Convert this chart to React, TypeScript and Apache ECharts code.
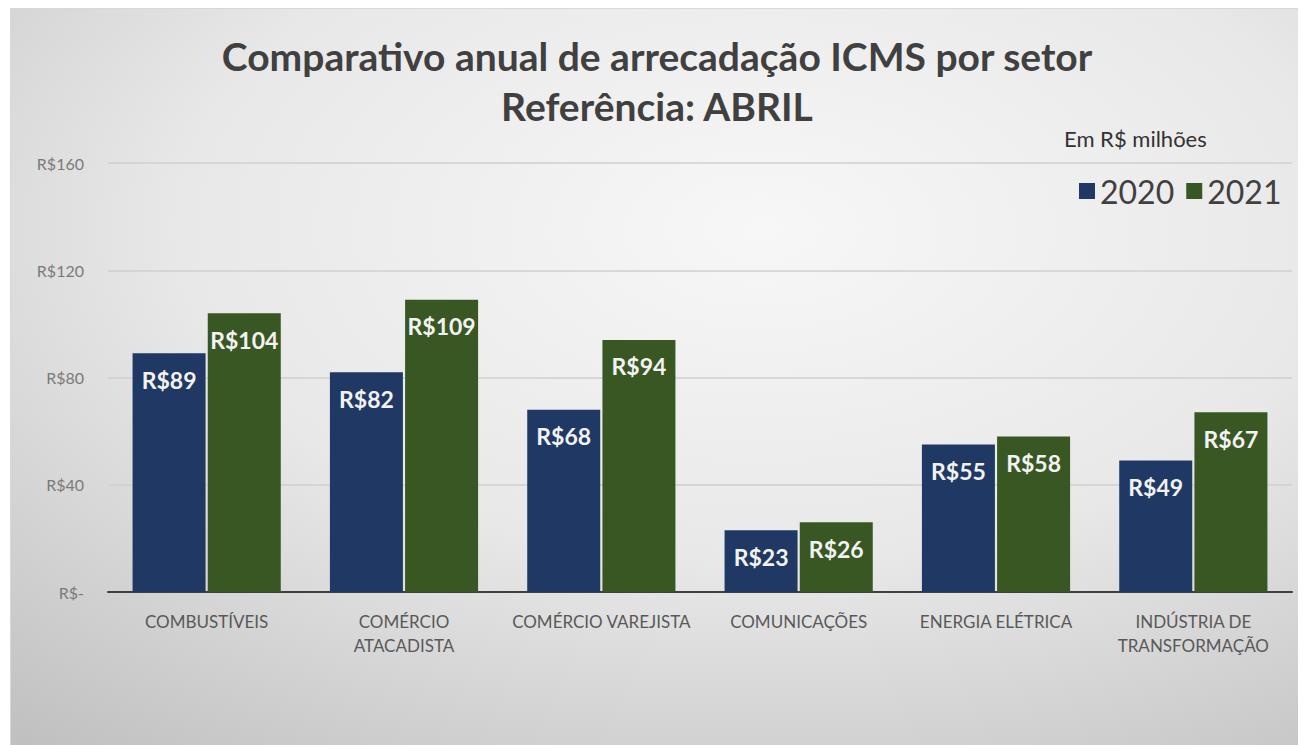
import React, { useEffect, useRef } from "react";
import * as echarts from "echarts";

const categories = [
  "COMBUSTÍVEIS",
  "COMÉRCIO\nATACADISTA",
  "COMÉRCIO VAREJISTA",
  "COMUNICAÇÕES",
  "ENERGIA ELÉTRICA",
  "INDÚSTRIA DE\nTRANSFORMAÇÃO",
];
const values2020 = [89, 82, 68, 23, 55, 49];
const values2021 = [104, 109, 94, 26, 58, 67];

const FONT = "Lato, 'Open Sans', sans-serif";

export default function App() {
  const ref = useRef<HTMLDivElement>(null);
  useEffect(() => {
    if (!ref.current) return;
    const chart = echarts.init(ref.current, undefined, { renderer: "svg" });
    const labelOpt = {
      show: true,
      position: "insideTop" as const,
      distance: 15,
      color: "#f2f2f2",
      fontSize: 23,
      fontWeight: "bold" as const,
      fontFamily: FONT,
      formatter: (p: any) => "R$" + p.value,
    };
    chart.setOption({
      animation: false,
      backgroundColor: "#ffffff",
      textStyle: { fontFamily: FONT },
      graphic: [
        {
          type: "rect",
          left: 2,
          top: 0,
          shape: { width: 1296, height: 737 },
          style: {
            fill: new echarts.graphic.RadialGradient(0.58, 0.3, 0.9, [
              { offset: 0, color: "#f7f7f7" },
              { offset: 0.5, color: "#e8e8e8" },
              { offset: 1, color: "#c0c0c0" },
            ]),
            stroke: "#d8d8d8",
            lineWidth: 1,
          },
          z: -10,
        },
        {
          type: "text",
          left: 1056,
          top: 119,
          style: {
            text: "Em R$ milhões",
            fontSize: 22,
            fill: "#333333",
            fontFamily: FONT,
          },
        },
      ],
      title: {
        text: "Comparativo anual de arrecadação ICMS por setor\nReferência: ABRIL",
        left: "center",
        top: 18,
        textStyle: {
          fontSize: 39,
          fontWeight: "bold",
          color: "#404040",
          lineHeight: 50,
          fontFamily: FONT,
        },
      },
      legend: {
        left: 1066,
        top: 162,
        itemWidth: 16,
        itemHeight: 16,
        itemGap: 12,
        icon: "rect",
        textStyle: { fontSize: 32, color: "#404040", fontFamily: FONT },
        data: ["2020", "2021"],
      },
      grid: { left: 100, right: 14, top: 155, bottom: 153 },
      xAxis: {
        type: "category",
        data: categories,
        axisTick: { show: false },
        axisLine: { lineStyle: { color: "#404040", width: 2 } },
        axisLabel: {
          color: "#595959",
          fontSize: 17,
          lineHeight: 24,
          margin: 17,
          interval: 0,
          fontFamily: FONT,
        },
      },
      yAxis: {
        type: "value",
        min: 0,
        max: 160,
        interval: 40,
        axisLine: { show: false },
        axisTick: { show: false },
        splitLine: { lineStyle: { color: "#cfcfcf", width: 1.5 } },
        axisLabel: {
          color: "#7a7a7a",
          fontSize: 16,
          margin: 24,
          fontFamily: FONT,
          formatter: (v: number) => (v === 0 ? "R$-" : "R$" + v),
        },
      },
      series: [
        {
          name: "2020",
          type: "bar",
          data: values2020,
          itemStyle: { color: "#203864" },
          barWidth: 73,
          barGap: "3%",
          label: labelOpt,
        },
        {
          name: "2021",
          type: "bar",
          data: values2021,
          itemStyle: { color: "#385723" },
          barWidth: 73,
          label: labelOpt,
        },
      ],
    });
    return () => chart.dispose();
  }, []);
  return <div ref={ref} style={{ width: 1298, height: 737 }} />;
}
